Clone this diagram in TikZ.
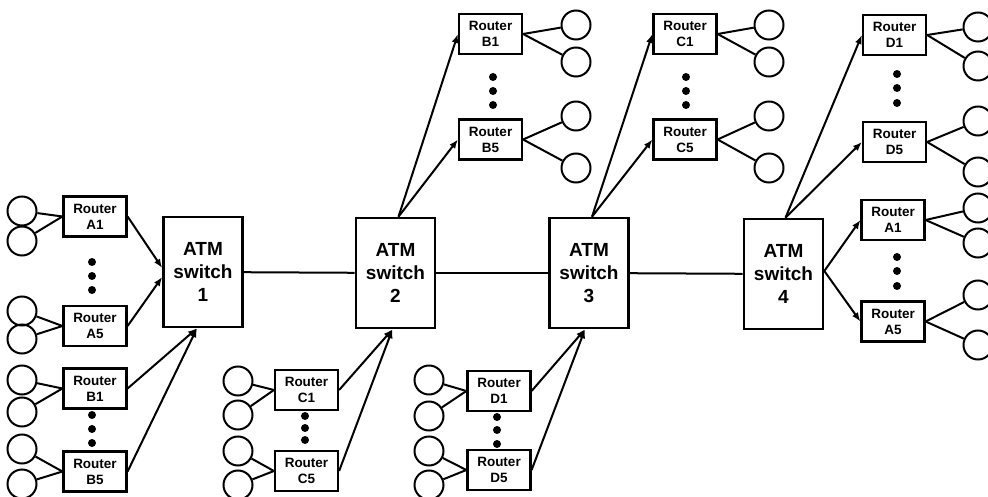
\documentclass[tikz,border=0pt]{standalone}
\usepackage{fontspec}
\setmainfont{Liberation Sans}
\usetikzlibrary{arrows.meta,calc}
\tikzset{
  router/.style={draw, line width=2.2pt, minimum width=63pt, minimum height=40pt, inner sep=0pt,
    align=center, font=\fontsize{13.5}{16}\selectfont\bfseries},
  switchbox/.style={draw, line width=2.6pt, minimum width=79pt, minimum height=110pt, inner sep=0pt,
    align=center, font=\fontsize{19}{23}\selectfont\bfseries},
  host/.style={draw, circle, line width=2pt, minimum size=29pt, inner sep=0pt},
  wire/.style={line width=2pt},
  link/.style={line width=2pt, -{Latex[length=9pt,width=7pt]}},
  trunk/.style={line width=2pt},
  dotm/.style={fill=black, circle, minimum size=8pt, inner sep=0pt}
}
\begin{document}
\begin{tikzpicture}[x=1pt,y=-1pt]
\useasboundingbox (0,0) rectangle (988,497);
% switches
\node[switchbox] (sw1) at (203,272) {ATM\\switch\\1};
\node[switchbox] (sw2) at (395.5,273) {ATM\\switch\\2};
\node[switchbox] (sw3) at (589,273) {ATM\\switch\\3};
\node[switchbox] (sw4) at (783.5,274) {ATM\\switch\\4};
\draw[trunk] (sw1) -- (sw2);
\draw[trunk] (sw2) -- (sw3);
\draw[trunk] (sw3) -- (sw4);
% left routers of switch 1
\node[router] (la1) at (95,216.5) {Router\\A1};
\node[router] (la5) at (95,326) {Router\\A5};
\node[router] (lb1) at (95,388.5) {Router\\B1};
\node[router] (lb5) at (95,471.5) {Router\\B5};
\coordinate (s1w1) at ($(sw1.west)+(0,-4)$);
\coordinate (s1w2) at ($(sw1.west)+(0,5)$);
\coordinate (s1b) at ($(sw1.south)+(-6,0)$);
\draw[link] (la1.east) -- (s1w1);
\draw[link] (la5.east) -- (s1w2);
\draw[link] (lb1.east) -- (s1b);
\draw[link] (lb5.east) -- (s1b);
\foreach \n/\y in {h1/211,h2/241,h3/311,h4/339,h5/380,h6/412,h7/449,h8/484}{
  \node[host] (\n) at (22,\y) {};
}
\draw[wire] (h1) -- (la1.west); \draw[wire] (h2) -- (la1.west);
\draw[wire] (h3) -- (la5.west); \draw[wire] (h4) -- (la5.west);
\draw[wire] (h5) -- (lb1.west); \draw[wire] (h6) -- (lb1.west);
\draw[wire] (h7) -- (lb5.west); \draw[wire] (h8) -- (lb5.west);
\node[dotm] (da1) at (92,262) {};
\node[dotm] (da2) at (92,276) {};
\node[dotm] (da3) at (92,290) {};
\node[dotm] (db1) at (92,415) {};
\node[dotm] (db2) at (92,429) {};
\node[dotm] (db3) at (92,443) {};
% bottom routers of switch 2
\node[router] (bc1) at (306.5,390) {Router\\C1};
\node[router] (bc5) at (306.5,471) {Router\\C5};
\coordinate (s2b) at ($(sw2.south)+(-3,0)$);
\draw[link] (bc1.east) -- (s2b);
\draw[link] (bc5.east) -- (s2b);
\foreach \n/\y in {g1/381,g2/415,g3/451,g4/485}{
  \node[host] (\n) at (238,\y) {};
}
\draw[wire] (g1) -- (bc1.west); \draw[wire] (g2) -- (bc1.west);
\draw[wire] (g3) -- (bc5.west); \draw[wire] (g4) -- (bc5.west);
\node[dotm] (dc1) at (305,416) {};
\node[dotm] (dc2) at (305,428) {};
\node[dotm] (dc3) at (305,440) {};
% bottom routers of switch 3
\node[router] (bd1) at (499,391) {Router\\D1};
\node[router] (bd5) at (499,470) {Router\\D5};
\coordinate (s3b) at ($(sw3.south)+(-4,0)$);
\draw[link] (bd1.east) -- (s3b);
\draw[link] (bd5.east) -- (s3b);
\foreach \n/\y in {f1/380,f2/416,f3/451,f4/485}{
  \node[host] (\n) at (429,\y) {};
}
\draw[wire] (f1) -- (bd1.west); \draw[wire] (f2) -- (bd1.west);
\draw[wire] (f3) -- (bd5.west); \draw[wire] (f4) -- (bd5.west);
\node[dotm] (dd1) at (497,417) {};
\node[dotm] (dd2) at (497,430) {};
\node[dotm] (dd3) at (497,444) {};
% top routers of switch 2
\node[router] (tb1) at (490.5,34) {Router\\B1};
\node[router] (tb5) at (490.5,139.5) {Router\\B5};
\coordinate (s2t) at ($(sw2.north)+(3,0)$);
\draw[link] (s2t) -- (tb1.west);
\draw[link] (s2t) -- (tb5.west);
\foreach \n/\y in {e1/25,e2/62,e3/116,e4/168}{
  \node[host] (\n) at (576,\y) {};
}
\draw[wire] (tb1.east) -- (e1); \draw[wire] (tb1.east) -- (e2);
\draw[wire] (tb5.east) -- (e3); \draw[wire] (tb5.east) -- (e4);
\node[dotm] (dtb1) at (493,77) {};
\node[dotm] (dtb2) at (493,91) {};
\node[dotm] (dtb3) at (493,105) {};
% top routers of switch 3
\node[router] (tc1) at (685,34) {Router\\C1};
\node[router] (tc5) at (685,139.5) {Router\\C5};
\coordinate (s3t) at ($(sw3.north)+(3,0)$);
\draw[link] (s3t) -- (tc1.west);
\draw[link] (s3t) -- (tc5.west);
\foreach \n/\y in {k1/25,k2/62,k3/116,k4/168}{
  \node[host] (\n) at (769,\y) {};
}
\draw[wire] (tc1.east) -- (k1); \draw[wire] (tc1.east) -- (k2);
\draw[wire] (tc5.east) -- (k3); \draw[wire] (tc5.east) -- (k4);
\node[dotm] (dtc1) at (686,77) {};
\node[dotm] (dtc2) at (686,91) {};
\node[dotm] (dtc3) at (686,105) {};
% top routers of switch 4
\node[router] (td1) at (894.5,35) {Router\\D1};
\node[router] (td5) at (894.5,142) {Router\\D5};
\coordinate (s4t) at ($(sw4.north)+(2,0)$);
\draw[link] (s4t) -- (td1.west);
\draw[link] (s4t) -- (td5.west);
\foreach \n/\y in {m1/27,m2/66,m3/121,m4/172}{
  \node[host] (\n) at (978,\y) {};
}
\draw[wire] (td1.east) -- (m1); \draw[wire] (td1.east) -- (m2);
\draw[wire] (td5.east) -- (m3); \draw[wire] (td5.east) -- (m4);
\node[dotm] (dtd1) at (897,74) {};
\node[dotm] (dtd2) at (897,88) {};
\node[dotm] (dtd3) at (897,103) {};
% right routers of switch 4
\node[router] (ra1) at (893,220) {Router\\A1};
\node[router] (ra5) at (893,321.5) {Router\\A5};
\coordinate (s4e) at ($(sw4.east)+(0,-3)$);
\draw[link] (s4e) -- (ra1.west);
\draw[link] (s4e) -- (ra5.west);
\foreach \n/\y in {p1/208,p2/243,p3/295,p4/345}{
  \node[host] (\n) at (978,\y) {};
}
\draw[wire] (ra1.east) -- (p1); \draw[wire] (ra1.east) -- (p2);
\draw[wire] (ra5.east) -- (p3); \draw[wire] (ra5.east) -- (p4);
\node[dotm] (dra1) at (897,257) {};
\node[dotm] (dra2) at (897,271) {};
\node[dotm] (dra3) at (897,286) {};
\end{tikzpicture}
\end{document}
